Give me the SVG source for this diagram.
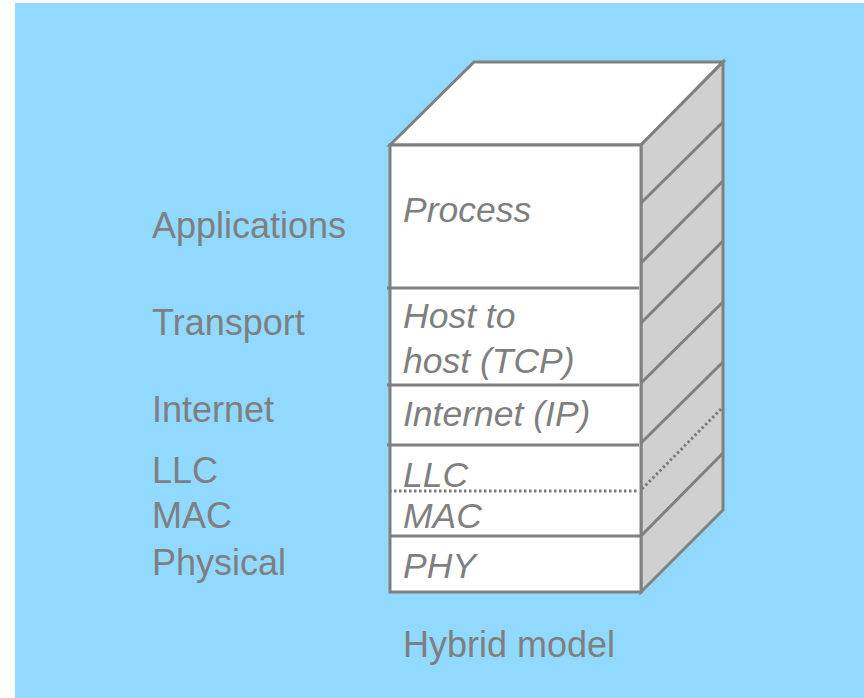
<svg xmlns="http://www.w3.org/2000/svg" width="864" height="698" viewBox="0 0 864 698">
  <style>
    .edge { stroke: #808080; stroke-width: 3; fill: none; stroke-linejoin: miter; }
    .face { stroke: #808080; stroke-width: 3; stroke-linejoin: miter; }
    .dot { stroke: #7a7a7a; stroke-width: 3; fill: none; stroke-dasharray: 2.5 2.5; }
    .lbl { font-family: "Liberation Sans", Arial, sans-serif; font-size: 36px; fill: #7f7f7f; }
    .it { font-style: italic; font-size: 35.5px; }
  </style>
  <rect x="0" y="0" width="864" height="698" fill="#ffffff"/>
  <rect x="15" y="3" width="849" height="695" fill="#91d9ff"/>

  <!-- stack body -->
  <g id="stack">
    <polygon points="390,145 474,62 723,62 641,145" fill="#ffffff" class="face"/>
    <polygon points="641,145 723,62 723,510 641,592" fill="#d0d0d0" class="face"/>
    <rect x="390" y="145" width="251" height="447" fill="#ffffff" class="face"/>
  </g>

  <!-- layer boundaries -->
  <g id="boundaries">
    <line x1="387" y1="288" x2="639" y2="288" class="edge"/>
    <line x1="387" y1="385" x2="639" y2="385" class="edge"/>
    <line x1="387" y1="445" x2="639" y2="445" class="edge"/>
    <line x1="389" y1="491" x2="639" y2="491" class="dot"/>
    <line x1="390" y1="536" x2="641" y2="536" class="edge"/>
    <line x1="641" y1="203" x2="723" y2="122" class="edge"/>
    <line x1="641" y1="263" x2="723" y2="181" class="edge"/>
    <line x1="641" y1="323" x2="723" y2="241" class="edge"/>
    <line x1="641" y1="383" x2="723" y2="302" class="edge"/>
    <line x1="641" y1="443" x2="723" y2="362" class="edge"/>
    <line x1="642" y1="489" x2="723" y2="407" class="dot"/>
    <line x1="641" y1="536" x2="723" y2="453" class="edge"/>
  </g>

  <!-- layer names inside the stack -->
  <g id="process"><text class="lbl it" x="403" y="222">Process</text></g>
  <g id="host-to-host"><text class="lbl it" x="403" y="328">Host to</text><text class="lbl it" x="403" y="373">host (TCP)</text></g>
  <g id="internet-ip"><text class="lbl it" x="403" y="426">Internet (IP)</text></g>
  <g id="llc"><text class="lbl it" x="403" y="487">LLC</text></g>
  <g id="mac"><text class="lbl it" x="403" y="528">MAC</text></g>
  <g id="phy"><text class="lbl it" x="403" y="578">PHY</text></g>

  <!-- layer names on the left -->
  <g id="labels">
    <text class="lbl" x="152" y="238">Applications</text>
    <text class="lbl" x="152" y="335">Transport</text>
    <text class="lbl" x="152" y="422">Internet</text>
    <text class="lbl" x="152" y="483">LLC</text>
    <text class="lbl" x="152" y="528">MAC</text>
    <text class="lbl" x="152" y="575">Physical</text>
  </g>

  <g id="caption"><text class="lbl" x="403" y="657">Hybrid model</text></g>
</svg>
